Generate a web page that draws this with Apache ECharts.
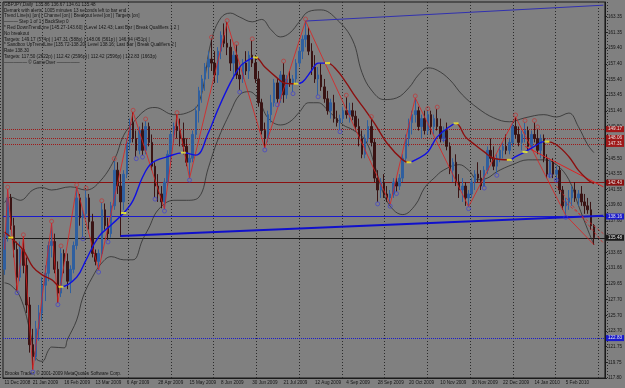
<!DOCTYPE html>
<html>
<head>
<meta charset="utf-8">
<script src="https://cdn.jsdelivr.net/npm/echarts@6/dist/echarts.min.js"></script>
<style>
html, body { margin: 0; padding: 0; background: #808080; }
#chart { width: 625px; height: 388px; }
</style>
</head>
<body>
<div id="chart"></div>
<script>
// GBPJPY daily (each candle ~ 2 sessions)
var xLabels = ['11 Dec 2008', '21 Jan 2009', '16 Feb 2009', '13 Mar 2009', '6 Apr 2009', '28 Apr 2009',
  '15 May 2009', '8 Jun 2009', '30 Jun 2009', '21 Jul 2009', '12 Aug 2009', '4 Sep 2009', '28 Sep 2009',
  '20 Oct 2009', '10 Nov 2009', '30 Nov 2009', '22 Dec 2009', '14 Jan 2010', '5 Feb 2010'];

var yTicks = [117.80, 119.75, 121.75, 123.70, 125.70, 127.70, 129.65, 131.66, 133.65, 135.65, 137.60,
  139.60, 141.55, 143.55, 145.50, 147.52, 149.50, 151.46, 153.45, 155.40, 157.40, 159.40, 161.35, 163.35];

// [open, close, low, high]
var candles = [
  [131.5,135.5,130.8,136.0],[135.5,140.5,135.0,141.5],[140.5,137.0,136.5,141.0],[137.0,134.0,133.0,138.0],
  [134.0,130.5,128.8,135.0],[130.5,134.0,130.0,135.0],[134.0,132.0,131.0,135.6],[132.0,127.0,126.0,133.0],
  [127.0,122.0,121.0,128.0],[122.0,120.5,118.9,124.0],[120.5,124.0,120.0,125.0],[124.0,126.0,122.5,127.0],
  [126.0,129.5,125.0,130.5],[129.5,131.0,127.5,132.0],[131.0,134.5,130.0,135.0],[134.5,135.0,133.0,137.3],
  [135.0,131.5,131.0,136.0],[131.5,128.5,127.3,132.5],[128.5,133.5,128.0,134.2],[133.5,132.5,131.0,134.0],
  [132.5,130.0,129.0,133.5],[130.0,131.5,128.5,132.0],[131.5,134.5,131.0,135.0],[134.5,140.5,134.0,141.9],
  [140.5,138.0,137.0,141.0],[138.0,138.5,135.6,139.0],[138.5,140.5,138.0,141.5],[140.5,137.5,136.5,141.0],
  [137.5,133.5,133.0,138.5],[133.5,132.5,132.0,134.0],[132.5,133.5,131.4,134.0],[133.5,139.0,133.0,139.9],
  [139.0,137.0,136.5,139.8],[137.0,136.0,135.2,138.0],[136.0,139.5,135.5,140.0],[139.5,144.0,139.0,145.2],
  [144.0,142.0,141.0,145.0],[142.0,140.0,135.6,143.5],[140.0,143.5,139.0,144.0],[143.5,147.5,143.0,148.0],
  [147.5,150.0,146.5,150.5],[150.0,148.0,147.5,151.3],[148.0,146.5,145.7,149.0],[146.5,149.0,146.0,149.5],
  [149.0,146.5,145.9,150.0],[146.5,149.5,146.0,150.2],[149.5,147.5,147.0,150.0],[147.5,144.5,144.0,148.5],
  [144.5,142.0,140.6,145.0],[142.0,141.0,140.0,143.5],[141.0,140.0,139.2,142.0],[140.0,142.5,139.1,143.0],
  [142.5,146.0,142.0,146.5],[146.0,148.5,145.0,149.0],[148.5,149.5,147.5,150.0],[149.5,149.0,148.0,151.0],
  [149.0,148.0,147.0,150.5],[148.0,147.0,146.0,150.0],[147.0,145.0,144.5,148.0],[145.0,145.5,143.0,146.0],
  [145.5,148.5,145.0,149.0],[148.5,151.5,148.0,152.0],[151.5,154.0,150.0,154.5],[154.0,155.5,152.5,156.0],
  [155.5,157.0,154.0,157.5],[157.0,158.0,155.5,159.0],[158.0,157.5,156.5,160.5],[157.5,156.0,155.0,159.0],
  [156.0,159.0,155.0,159.5],[159.0,161.0,158.0,161.5],[161.0,160.0,159.5,162.5],[160.0,159.5,158.5,162.7],
  [159.5,157.5,156.5,160.5],[157.5,158.5,155.5,159.0],[158.5,156.0,155.5,159.8],[156.0,155.5,154.1,157.0],
  [155.5,157.5,155.0,158.0],[157.5,156.5,156.0,159.0],[156.5,158.5,155.5,159.0],[158.5,157.5,157.0,160.3],
  [157.5,155.5,155.0,158.5],[155.5,152.5,152.0,156.5],[152.5,149.0,148.5,153.0],[149.0,148.0,146.8,150.0],
  [148.0,151.0,147.5,151.5],[151.0,152.5,150.0,153.5],[152.5,155.0,152.0,155.5],[155.0,153.0,152.5,155.5],
  [153.0,156.0,152.5,156.5],[156.0,153.5,152.5,157.5],[153.5,155.5,153.0,156.0],[155.5,155.0,154.5,156.5],
  [155.0,155.5,153.9,156.0],[155.5,157.5,155.0,158.0],[157.5,159.0,157.0,159.5],[159.0,160.5,158.0,161.0],
  [160.5,161.0,159.5,162.8],[161.0,159.0,158.5,162.0],[159.0,157.0,156.0,160.0],[157.0,155.5,155.0,158.5],
  [155.5,156.0,153.5,157.0],[156.0,154.5,154.0,157.5],[154.5,153.0,152.5,155.5],[153.0,151.5,151.0,154.0],
  [151.5,152.5,150.5,153.0],[152.5,150.5,150.0,153.5],[150.5,150.0,149.5,151.5],[150.0,150.5,149.1,151.0],
  [150.5,151.5,150.0,152.0],[151.5,151.0,150.5,153.2],[151.0,151.5,150.0,152.5],[151.5,150.8,150.3,152.5],
  [150.8,149.5,149.0,151.5],[149.5,148.0,147.0,150.5],[148.0,146.0,145.5,149.0],[146.0,148.0,145.5,148.5],
  [148.0,149.5,147.5,150.3],[149.5,147.5,147.0,150.5],[147.5,143.0,142.5,148.0],[143.0,141.5,140.0,144.0],
  [141.5,142.5,140.5,143.0],[142.5,141.0,140.5,143.5],[141.0,140.5,140.0,142.0],[140.5,141.0,139.7,141.5],
  [141.0,142.5,140.5,143.0],[142.5,142.0,141.3,143.0],[142.0,143.0,141.5,143.5],[143.0,145.5,142.5,146.0],
  [145.5,148.0,145.0,148.5],[148.0,150.0,147.0,150.5],[150.0,151.0,148.5,151.5],[151.0,151.5,150.0,153.1],
  [151.5,149.5,149.0,152.0],[149.5,150.5,148.0,151.0],[150.5,149.0,148.5,151.5],[149.0,151.0,148.5,151.5],
  [151.0,149.5,148.5,151.5],[149.5,150.5,148.5,151.0],[150.5,149.5,149.0,151.7],[149.5,148.0,147.5,150.5],
  [148.0,149.0,147.5,149.5],[149.0,147.0,146.5,150.0],[147.0,144.0,143.5,147.5],[144.0,145.0,142.5,145.5],
  [145.0,142.5,142.0,146.0],[142.5,141.5,140.5,143.5],[141.5,142.0,140.0,143.0],[142.0,140.5,139.5,142.5],
  [140.5,141.0,139.4,141.5],[141.0,142.5,140.5,143.0],[142.5,143.5,141.5,144.0],[143.5,143.0,142.5,145.0],
  [143.0,142.0,141.5,144.0],[142.0,144.0,142.0,144.5],[144.0,146.5,143.5,147.0],[146.5,145.5,145.0,148.0],
  [145.5,144.5,144.0,147.0],[144.5,145.5,143.6,146.0],[145.5,146.5,145.0,147.0],[146.5,147.0,145.5,147.5],
  [147.0,146.5,146.0,148.5],[146.5,147.5,146.0,148.0],[147.5,149.5,147.0,150.0],[149.5,148.5,148.0,150.7],
  [148.5,147.5,147.0,149.5],[147.5,148.5,146.5,149.0],[148.5,149.0,147.5,150.0],[149.0,147.0,146.5,149.5],
  [147.0,148.5,146.5,149.0],[148.5,148.0,147.5,150.0],[148.0,146.5,146.0,149.2],[146.5,148.0,145.5,148.5],
  [148.0,145.5,145.0,148.5],[145.5,143.5,143.0,146.0],[143.5,145.0,143.0,145.5],[145.0,143.5,143.0,145.5],
  [143.5,144.0,142.5,144.5],[144.0,141.5,141.0,144.5],[141.5,139.5,139.0,142.0],[139.5,140.0,138.3,140.5],
  [140.0,140.5,139.0,141.5],[140.5,141.5,139.5,142.0],[141.5,140.5,140.0,142.5],[140.5,141.0,139.5,141.5],
  [141.0,140.0,139.5,142.0],[140.0,139.5,138.5,141.0],[139.5,139.0,138.5,140.5],[139.0,137.0,136.5,140.0],
  [137.0,135.5,134.6,137.2]
];
var SLOTS = 192; // chart shift: a few empty bar slots on the right

// Bollinger bands, [bar, value]
var upperBand = [[0,139.9],[2,140.6],[5,140.2],[9,141.5],[12,141.8],[15,141.5],[21,141.9],[26,141.5],[30,142.4],
  [35,145.3],[38,148.4],[41,150.0],[45,151.6],[48,151.9],[54,151.0],[58,151.2],[62,152.5],[66,160.4],[69,163.2],
  [72,163.8],[75,163.3],[79,162.7],[82,163.0],[85,161.7],[88,160.8],[91,161.3],[94,162.7],[97,164.0],[101,164.2],
  [106,163.0],[111,160.4],[114,156.3],[117,154.1],[121,152.9],[125,153.1],[129,154.4],[132,156.0],[135,156.9],
  [138,156.6],[142,155.4],[146,153.5],[151,151.8],[156,150.6],[161,150.1],[166,150.6],[172,151.0],[176,150.7],
  [180,151.2],[183,149.5],[186,147.2],[188,146.2]];
var lowerBand = [[0,129.8],[2,129.5],[5,128.0],[8,123.9],[10,120.3],[12,119.9],[14,121.3],[15,121.7],[19,121.6],
  [20,122.6],[23,125.1],[25,128.0],[28,130.5],[31,132.3],[34,133.1],[38,132.7],[41,132.7],[44,135.2],[46,136.7],
  [49,139.0],[54,140.2],[58,140.2],[62,140.6],[65,144.3],[68,147.8],[72,151.3],[75,153.5],[78,153.9],[81,152.9],
  [84,150.6],[88,149.7],[91,150.1],[94,151.3],[97,152.5],[100,152.5],[103,151.6],[108,149.7],[111,149.1],
  [115,147.8],[118,144.7],[121,140.9],[124,139.0],[127,138.4],[131,139.6],[134,141.8],[137,143.0],[140,144.0],
  [145,144.7],[148,144.0],[151,142.8],[154,143.0],[157,143.8],[162,144.7],[167,145.3],[172,145.3],[176,144.7],
  [180,142.8],[183,139.6],[186,136.5],[188,134.6]];

// slope-coloured moving average
var maLine = [[0,136.2],[2,135.5],[6,133.9],[9,131.8],[12,130.8],[15,130.2],[18,129.3],[23,130.5],[26,132.7],
  [30,135.6],[34,137.1],[38,138.6],[41,140.2],[44,143.1],[47,144.9],[52,145.7],[57,146.2],[61,145.9],[65,148.7],
  [68,151.6],[72,155.0],[75,157.0],[77,157.7],[80,158.2],[83,157.0],[87,155.6],[89,155.0],[91,154.9],[93,154.9],
  [95,155.1],[98,156.6],[100,157.5],[103,157.5],[106,156.6],[109,155.0],[112,153.2],[115,151.6],[118,149.9],
  [122,147.4],[127,145.3],[129,145.0],[132,145.5],[135,146.3],[138,148.2],[142,149.5],[144,149.9],[147,148.2],
  [150,147.2],[153,146.3],[156,145.5],[161,145.3],[163,145.7],[166,146.3],[169,147.0],[172,147.6],[173,147.6],
  [176,147.2],[180,145.7],[183,144.0],[186,142.8],[188,142.3]];
var maTurns = [18, 80, 93, 103, 129, 144, 161, 173]; // bars where the MA changes colour
var maFlat = [[2,135.5],[18,129.3],[38,138.6],[57,146.2],[80,158.2],[93,154.9],[103,157.5],[129,145.0],
  [144,149.9],[161,145.3],[166,146.3],[173,147.6]];

var swingHighs = [[1,141.6],[6,135.6],[15,137.3],[18,134.2],[23,141.9],[26,141.5],[31,139.9],[35,145.2],
  [41,151.3],[45,150.2],[55,151.0],[66,160.5],[71,162.6],[74,159.7],[79,160.3],[89,157.5],[96,162.8],
  [109,153.2],[117,150.5],[131,153.1],[135,151.5],[138,151.7],[163,150.7],[166,150.0],[169,150.0],[170,149.2]];
var swingLows = [[4,128.8],[9,118.8],[17,127.3],[25,135.6],[30,131.4],[33,135.2],[42,145.7],[44,145.9],
  [48,140.6],[51,139.1],[59,143.0],[75,154.1],[83,146.8],[87,152.5],[92,153.9],[100,153.5],[107,149.1],
  [119,140.0],[123,139.7],[125,141.3],[140,148.2],[148,139.4],[153,142.0],[157,143.6],[174,143.6],[176,143.0],
  [179,138.3]];
var zigzag = [[0,134.0],[1,141.6],[4,128.8],[6,135.6],[9,118.8],[15,137.3],[17,127.3],[23,141.9],[30,131.4],
  [41,151.3],[51,139.1],[55,151.0],[59,143.0],[71,162.6],[83,146.8],[96,162.8],[123,139.7],[131,153.1],
  [148,139.4],[163,150.7],[179,138.3],[188,134.6]];

// trend lines and levels
var upTrend = [[37,135.7],[191,138.25]];
var topLine = [[96,162.8],[191,164.8]];
var downTrend = [[166,147.0],[191,141.9]];
var projA = [[176,142.0],[191,134.8]];
var projB = [[178,140.2],[191,136.0]];
var redTargets = [149.17, 148.06, 147.31];
var breakLevel = 142.43;
var upLevel = 138.16;
var lastClose = 135.48;
var lowTarget = 122.83;

var infoLines = [
  'GBPJPY,Daily  135.86 136.67 134.61 135.48',
  'Demark with alerts  1005 minutes 13 seconds left to bar end',
  'Trend Line(s) [on] | Channel [on] | Breakout level [on] | Targets [on]',
  '\u2014\u2014\u2014 Step 1 of 1 | BackStep 0',
  '* Red DownTrendLine [145.27-143.60] | Level 142.43; Last Bar | Break Qualifiers 1 2 ]',
  'No breakout',
  'Targets: 149.17 (574p) | 147.31 (588p) | 148.06 (561p) | 146.94 (451p) |',
  '* Sandbox UpTrendLine [135.72-138.20] Level 138.16; Last Bar | Break Qualifiers 2 ]',
  'Rate 138.30',
  'Targets: 117.50 (2622p) | 112.42 (2596p) | 112.42 (2596p) | 122.83 (1663p)',
  '\u2014\u2014\u2014\u2014\u2014 \u00A9 GameOver \u2014\u2014\u2014\u2014\u2014'
];
var copyright = 'Brooks Trader, \u00A9 2001-2009 MetaQuotes Software Corp.';

// --- styling ---
var FONT = 'Liberation Sans';
var FS = 4.6;
var TXT = '#151515';
var DARKRED = '#8b1010';
var BLUE = '#1010e0';

function labelIndex(i) {
  if (i === 0) return 0;
  if (i >= 9 && (i - 9) % 10 === 0) return (i - 9) / 10 + 1;
  return -1;
}

var cats = [];
for (var i = 0; i < SLOTS; i++) cats.push(String(i));

var pieces = [];
var colors = [DARKRED, BLUE];
var prev = null;
for (var k = 0; k <= maTurns.length; k++) {
  var p = { color: colors[k % 2] };
  if (prev !== null) p.gte = prev;
  if (k < maTurns.length) p.lt = maTurns[k];
  pieces.push(p);
  prev = maTurns[k];
}

function levelLine(v, color, type, width) {
  return {
    yAxis: v,
    lineStyle: { color: color, type: type, width: width },
    label: {
      show: true, position: 'end', distance: 1, formatter: v.toFixed(2),
      backgroundColor: color, color: '#e6e6e6', fontSize: FS, fontFamily: FONT,
      padding: [1, 2, 0, 2]
    }
  };
}

var markData = [];
redTargets.forEach(function(v) { markData.push(levelLine(v, '#a01818', 'dotted', 1)); });
markData.push(levelLine(breakLevel, DARKRED, 'solid', 1));
markData.push(levelLine(upLevel, '#1a1acc', 'solid', 1));
markData.push(levelLine(lastClose, '#1a1a1a', 'solid', 1));
markData.push(levelLine(lowTarget, '#1a1acc', 'dotted', 1));

var graphics = infoLines.map(function(t, n) {
  return {
    type: 'text', left: 4, top: 2 + n * 5.8, silent: true,
    style: { text: t, fill: TXT, font: FS + 'px ' + FONT }
  };
});
graphics.push({
  type: 'text', left: 5, top: 371, silent: true,
  style: { text: copyright, fill: TXT, font: FS + 'px ' + FONT }
});

function thinLine(name, data, color, width, type) {
  return { type: 'line', name: name, data: data, symbol: 'none', z: 5, silent: true,
    lineStyle: { color: color, width: width, type: type || 'solid' } };
}

function circles(name, data, color, dy) {
  return { type: 'scatter', name: name, data: data, symbol: 'circle', symbolSize: 4, z: 7,
    symbolOffset: [0, dy], itemStyle: { color: 'transparent', borderColor: color, borderWidth: 0.8 } };
}

var chart = echarts.init(document.getElementById('chart'));
chart.setOption({
  backgroundColor: '#808080',
  animation: false,
  grid: [
    { left: 3, right: 18, top: 2, bottom: 10, show: true, borderColor: '#1a1a1a', borderWidth: 1,
      backgroundColor: 'transparent' },
    { left: 0, right: 18, top: 2, bottom: 10 }
  ],
  xAxis: [
    {
      type: 'category', data: cats, boundaryGap: true, gridIndex: 0,
      axisLine: { lineStyle: { color: '#1a1a1a' } },
      axisTick: { alignWithLabel: true, length: 3, lineStyle: { color: '#1a1a1a' },
        interval: function(i) { return labelIndex(i) >= 0; } },
      axisLabel: {
        interval: function(i) { return labelIndex(i) >= 0; },
        formatter: function(v, i) { var n = labelIndex(i); return n >= 0 ? xLabels[n] : ''; },
        align: 'left', margin: 2, color: TXT, fontSize: FS, fontFamily: FONT
      },
      splitLine: { show: false }
    },
    {
      type: 'value', gridIndex: 1, min: 0, max: 14.2, interval: 1,
      axisLine: { show: false }, axisTick: { show: false }, axisLabel: { show: false },
      splitLine: { show: true, lineStyle: { color: '#2a2a2a', type: [1, 2], width: 1 } }
    }
  ],
  yAxis: [
    {
      type: 'value', position: 'right', gridIndex: 0, min: 117.8, max: 165.2, scale: true,
      axisLine: { show: true, lineStyle: { color: '#1a1a1a' } },
      axisTick: { show: true, length: 2, customValues: yTicks, lineStyle: { color: '#1a1a1a' } },
      axisLabel: { customValues: yTicks, formatter: function(v) { return v.toFixed(2); },
        color: TXT, fontSize: FS, fontFamily: FONT, margin: 3 },
      splitLine: { show: false }
    },
    { type: 'value', gridIndex: 1, show: false, splitLine: { show: false } }
  ],
  visualMap: {
    type: 'piecewise', show: false, dimension: 0, seriesIndex: 3, pieces: pieces
  },
  graphic: graphics,
  series: [
    { type: 'line', name: 'BB upper', data: upperBand, smooth: 0.4, symbol: 'none', z: 3,
      lineStyle: { color: '#2e2e2e', width: 0.8 } },
    { type: 'line', name: 'BB lower', data: lowerBand, smooth: 0.4, symbol: 'none', z: 3,
      lineStyle: { color: '#2e2e2e', width: 0.8 } },
    {
      type: 'candlestick', name: 'GBPJPY', data: candles, barWidth: 2, z: 4,
      itemStyle: { color: '#2f5f9f', color0: '#3a1414', borderColor: '#2f5f9f', borderColor0: '#3a1414',
        borderWidth: 1 },
      markLine: { silent: true, symbol: 'none', data: markData, z: 2 }
    },
    { type: 'line', name: 'MA', data: maLine, smooth: 0.4, symbol: 'none', z: 6,
      lineStyle: { width: 1.4 } },
    thinLine('ZigZag', zigzag, '#e02020', 0.8),
    thinLine('UpTrend', upTrend, '#1010cc', 2),
    thinLine('Top', topLine, '#3030b0', 1),
    thinLine('DownTrend', downTrend, '#e02020', 1),
    thinLine('ProjA', projA, '#d02828', 0.8, [3, 2]),
    thinLine('ProjB', projB, '#d02828', 0.8, [3, 2]),
    circles('Highs', swingHighs, '#c83030', -2),
    circles('Lows', swingLows, '#3a3ad8', 2),
    { type: 'scatter', name: 'Flat', data: maFlat, symbol: 'rect', symbolSize: [5, 2], z: 8,
      itemStyle: { color: '#ffff20' } }
  ]
});
</script>
</body>
</html>
